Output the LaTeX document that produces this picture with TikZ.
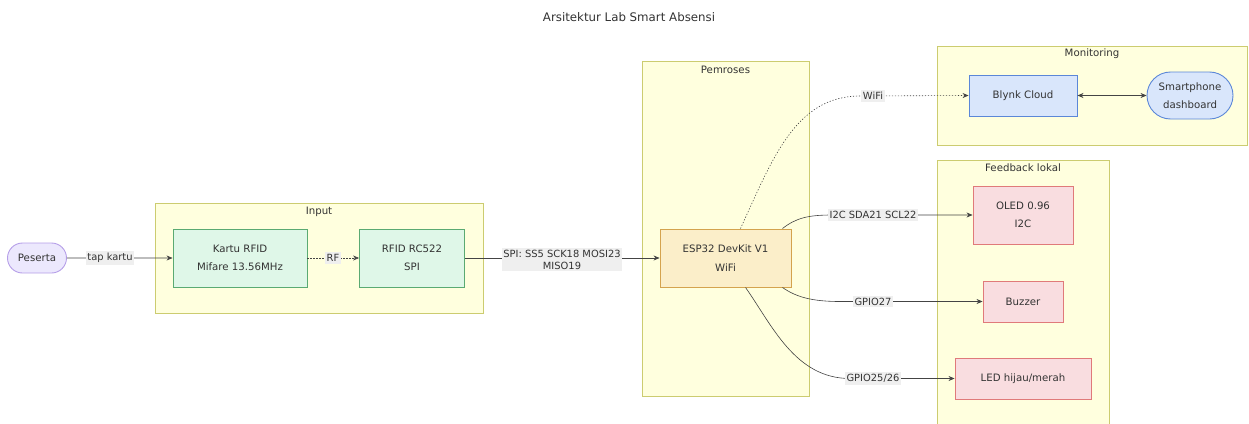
\documentclass[tikz,border=0pt]{standalone}
\usepackage{fontspec}
\setmainfont{DejaVu Sans}
\usetikzlibrary{arrows.meta,shapes.misc}
\definecolor{txt}{HTML}{333333}
\definecolor{lnc}{HTML}{444444}
\definecolor{clfill}{HTML}{FFFFDE}
\definecolor{cldraw}{HTML}{CCCC70}
\definecolor{gfill}{HTML}{DFF7E8}
\definecolor{gdraw}{HTML}{5AAA72}
\definecolor{ofill}{HTML}{FBEEC9}
\definecolor{odraw}{HTML}{D4A34E}
\definecolor{bfill}{HTML}{D9E6FB}
\definecolor{bdraw}{HTML}{5B87D8}
\definecolor{rfill}{HTML}{F9DDE0}
\definecolor{rdraw}{HTML}{E07A7A}
\definecolor{pfill}{HTML}{ECE8FD}
\definecolor{pdraw}{HTML}{B59EE8}
\definecolor{lblfill}{HTML}{EFEFEF}
\tikzset{
  every node/.style={font=\fontsize{10.2pt}{18.5pt}\selectfont, text=txt},
  cluster/.style={draw=cldraw, fill=clfill, line width=0.8pt},
  boxnode/.style={draw, line width=0.9pt, align=center, inner sep=0pt},
  pill/.style={rounded rectangle, draw, line width=0.9pt, align=center, inner sep=0pt},
  edgelbl/.style={fill=lblfill, inner xsep=1.5pt, inner ysep=2pt, align=center, font=\fontsize{9.9pt}{12pt}\selectfont},
  conn/.style={draw=lnc, line width=0.6pt, -{Stealth[length=6pt,width=5pt]}},
  dconn/.style={conn, dash pattern=on 1.2pt off 1.8pt},
  bconn/.style={draw=lnc, line width=0.6pt, {Stealth[length=6pt,width=5pt]}-{Stealth[length=6pt,width=5pt]}},
}
\begin{document}
\begin{tikzpicture}[x=1pt,y=-1pt]
\useasboundingbox (0,0) rectangle (1249,423);
% title
\node[font=\fontsize{11.8pt}{14pt}\selectfont] (title) at (629,17) {Arsitektur Lab Smart Absensi};
% clusters
\draw[cluster] (155,203) rectangle (483,313);
\node (tinput) at (319,211.5) {Input};
\draw[cluster] (642,61) rectangle (809,396);
\node (tpem) at (725.5,69.5) {Pemroses};
\draw[cluster] (937,46) rectangle (1247,145);
\node (tmon) at (1092,53.5) {Monitoring};
\draw[cluster] (937,160) rectangle (1109,430);
\node (tfb) at (1023,168) {Feedback lokal};
% nodes
\node[pill, draw=pdraw, fill=pfill, minimum width=59pt, minimum height=30pt] (peserta) at (37,258) {Peserta};
\node[boxnode, draw=gdraw, fill=gfill, minimum width=134pt, minimum height=58pt] (kartu) at (240,258) {Kartu RFID\\Mifare 13.56MHz};
\node[boxnode, draw=gdraw, fill=gfill, minimum width=105pt, minimum height=58pt] (rc522) at (412,258) {RFID RC522\\SPI};
\node[boxnode, draw=odraw, fill=ofill, minimum width=131pt, minimum height=58pt] (esp) at (725.5,258) {ESP32 DevKit V1\\WiFi};
\node[boxnode, draw=bdraw, fill=bfill, minimum width=108pt, minimum height=41pt] (blynk) at (1023,95.5) {Blynk Cloud};
\node[pill, draw=bdraw, fill=bfill, minimum width=86pt, minimum height=47pt] (phone) at (1190,95.5) {Smartphone\\dashboard};
\node[boxnode, draw=rdraw, fill=rfill, minimum width=100pt, minimum height=58pt] (oled) at (1023,215) {OLED 0.96\\I2C};
\node[boxnode, draw=rdraw, fill=rfill, minimum width=80pt, minimum height=41pt] (buzzer) at (1023,301.5) {Buzzer};
\node[boxnode, draw=rdraw, fill=rfill, minimum width=136pt, minimum height=41pt] (led) at (1023,378.5) {LED hijau/merah};
% connectors
\draw[conn] (peserta) -- (kartu);
\draw[dconn] (kartu) -- (rc522);
\draw[conn] (rc522) -- (esp);
\draw[dconn] ([xshift=15pt]esp.north) .. controls (772,160) and (795,96) .. (860,96) -- (blynk.west);
\draw[bconn] (blynk) -- (phone);
\draw[conn] ([xshift=-9pt]esp.north east) .. controls (796,218) and (808,215) .. (832,215) -- (oled.west);
\draw[conn] ([xshift=-9pt]esp.south east) .. controls (796,297) and (812,301.5) .. (840,301.5) -- (buzzer.west);
\draw[conn] ([xshift=20pt]esp.south) .. controls (772,325) and (795,378.5) .. (850,378.5) -- (led.west);
% edge labels
\node[edgelbl] (ltap) at (110,258) {tap kartu};
\node[edgelbl] (lrf) at (333,258) {RF};
\node[edgelbl] (lspi) at (562,259.5) {SPI: SS5 SCK18 MOSI23\\MISO19};
\node[edgelbl] (lwifi) at (873,96) {WiFi};
\node[edgelbl] (li2c) at (873,215) {I2C SDA21 SCL22};
\node[edgelbl] (lg27) at (873,301.5) {GPIO27};
\node[edgelbl] (lg25) at (873,378.5) {GPIO25/26};
\end{tikzpicture}
\end{document}
